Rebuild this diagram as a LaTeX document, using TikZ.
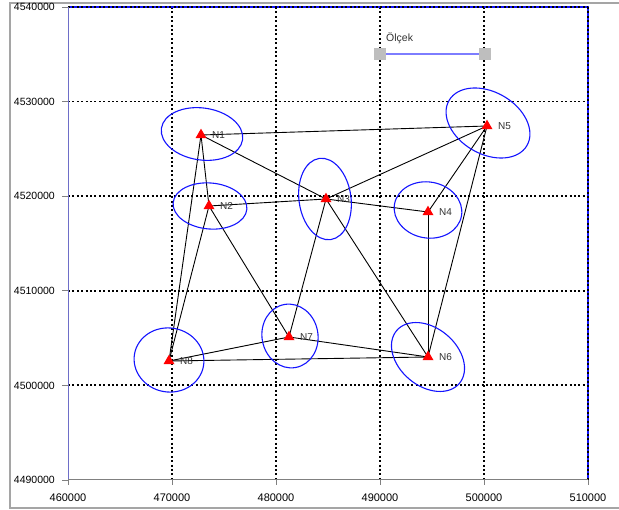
\documentclass[tikz,border=0pt]{standalone}
\usepackage{fontspec}
\setmainfont{Liberation Sans}
\usetikzlibrary{shapes.geometric}
\definecolor{framegray}{RGB}{165,165,165}
\definecolor{axisblue}{RGB}{110,110,200}
\definecolor{ellblue}{RGB}{20,20,255}
\definecolor{scaleblue}{RGB}{125,125,255}
\definecolor{sqgray}{RGB}{190,190,190}
\definecolor{txtgray}{RGB}{50,50,50}
\tikzset{
  gridline/.style={line width=1.8pt, dash pattern=on 2pt off 2.4pt},
  edge/.style={line width=0.9pt, black},
  errell/.style={draw=ellblue, line width=1.1pt},
  marker/.style={regular polygon, regular polygon sides=3, fill=red, inner sep=0pt, minimum size=12.7pt},
  ptlabel/.style={anchor=west, font=\fontsize{10}{12}\selectfont, text=txtgray, inner sep=0pt},
  ylab/.style={anchor=east, font=\fontsize{10.5}{12}\selectfont, inner sep=0pt},
  xlab/.style={anchor=center, font=\fontsize{11}{12}\selectfont, inner sep=0pt},
  tickmark/.style={draw=gray, line width=0.8pt},
}
\begin{document}
\begin{tikzpicture}[x=1pt,y=-1pt]
\useasboundingbox (0,0) rectangle (619,510);
% outer frame
\draw[framegray, line width=1.5pt] (619,3) -- (10,3) -- (10,508) -- (619,508);
% grid
\foreach \gx in {172,276,380,484,588} \draw[gridline] (\gx,7) -- (\gx,480);
\foreach \gy in {7,101.6,196.2,290.8,385.4} \draw[gridline] (68,\gy) -- (588,\gy);
% plot area border
\draw[ellblue, line width=1.2pt] (68,7) -- (588,7) -- (588,480);
\draw[gridline] (68,7) -- (588,7);
\draw[gridline] (588,7) -- (588,480);
\draw[axisblue, line width=1pt] (68,7) -- (68,480);
\draw[gray, line width=1pt] (68,480) -- (588,480);
% ticks and labels
\foreach \gy/\t in {7/4540000,101.6/4530000,196.2/4520000,290.8/4510000,385.4/4500000,480/4490000}{
  \draw[tickmark] (62,\gy) -- (68,\gy);
  \node[ylab] at (55,\gy) {\t};
}
\foreach \gx/\t in {68/460000,172/470000,276/480000,380/490000,484/500000,588/510000}{
  \draw[tickmark] (\gx,480) -- (\gx,485);
  \node[xlab] at (\gx,498) {\t};
}
% scale bar
\node[fill=sqgray, minimum size=12pt, inner sep=0pt] (sqa) at (380,54) {};
\node[fill=sqgray, minimum size=12pt, inner sep=0pt] (sqb) at (485,54) {};
\draw[scaleblue, line width=1.5pt] (sqa) -- (sqb);
\node[anchor=west, font=\fontsize{10.5}{12}\selectfont, text=txtgray, inner sep=0pt] (scl) at (386,38) {Ölçek};
% points
\coordinate (N1) at (201,135);
\coordinate (N2) at (209,206);
\coordinate (N3) at (326,199);
\coordinate (N4) at (428,212);
\coordinate (N5) at (487,126);
\coordinate (N6) at (428,357);
\coordinate (N7) at (289,337);
\coordinate (N8) at (169,361);
% edges
\draw[edge] (N1) -- (N5);
\draw[edge] (N1) -- (N3);
\draw[edge] (N1) -- (N2);
\draw[edge] (N1) -- (N8);
\draw[edge] (N2) -- (N3);
\draw[edge] (N2) -- (N8);
\draw[edge] (N2) -- (N7);
\draw[edge] (N3) -- (N4);
\draw[edge] (N3) -- (N5);
\draw[edge] (N3) -- (N7);
\draw[edge] (N3) -- (N6);
\draw[edge] (N4) -- (N5);
\draw[edge] (N4) -- (N6);
\draw[edge] (N5) -- (N6);
\draw[edge] (N6) -- (N7);
\draw[edge] (N6) -- (N8);
\draw[edge] (N7) -- (N8);
% error ellipses
\draw[errell, rotate around={-8:(202,134)}] (202,134) ellipse (41 and 26);
\draw[errell, rotate around={-5:(210,206)}] (210,206) ellipse (37 and 23);
\draw[errell, rotate around={8:(325,199)}] (325,199) ellipse (26 and 41);
\draw[errell, rotate around={-10:(428,210)}] (428,210) ellipse (34 and 28);
\draw[errell, rotate around={-30:(488,123)}] (488,123) ellipse (45 and 31);
\draw[errell, rotate around={-40:(428,357)}] (428,357) ellipse (41 and 29);
\draw[errell, rotate around={10:(290,336)}] (290,336) ellipse (28 and 32);
\draw[errell, rotate around={-10:(169,360)}] (169,360) ellipse (35 and 32);
% markers and labels
\foreach \n in {1,...,8}{
  \node[marker] (m\n) at (N\n) {};
  \node[ptlabel] (l\n) at ([xshift=11pt]N\n) {N\n};
}
\end{tikzpicture}
\end{document}
